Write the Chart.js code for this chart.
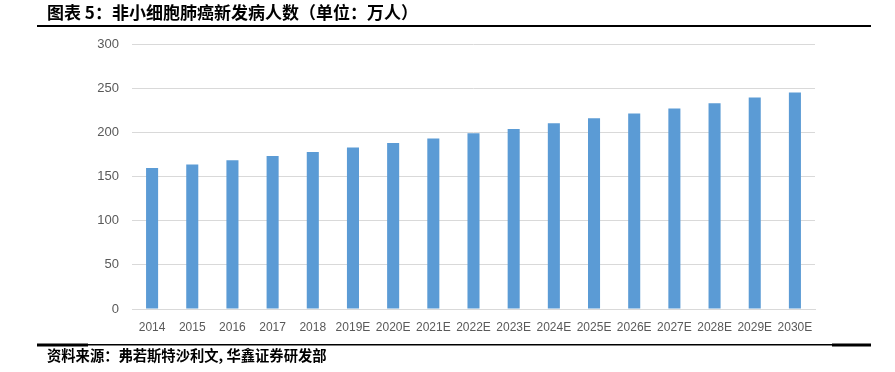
<!DOCTYPE html>
<html><head><meta charset="utf-8">
<script src="https://cdn.jsdelivr.net/npm/chart.js@4/dist/chart.umd.min.js"></script>
<style>html,body{margin:0;padding:0;background:#fff;}#wrap{position:relative;width:895px;height:372px;}</style>
</head><body><div id="wrap"><canvas id="c" width="895" height="372"></canvas></div>
<script>
const titleText = "图表 5：非小细胞肺癌新发病人数（单位：万人）";
const sourceText = "资料来源：弗若斯特沙利文, 华鑫证券研发部";
const categories = ["2014","2015","2016","2017","2018","2019E","2020E","2021E","2022E","2023E","2024E","2025E","2026E","2027E","2028E","2029E","2030E"];
const patients = [159.6,163.7,168.3,173.2,177.8,182.7,188,193,198.9,203.9,210.3,216,221.3,227,233,239.3,245];
const yTicks = [0,50,100,150,200,250,300];

const decor = {
  id:'decor',
  afterDraw(chart){
    const ctx = chart.ctx;
    ctx.save();
    ctx.fillStyle='#000';
    ctx.font='bold 17px "Noto Sans CJK SC", sans-serif';
    ctx.textBaseline='middle';
    ctx.textAlign='left';
    ctx.fillText(titleText,47,13);
    ctx.fillRect(37,25,834,2);
    ctx.fillRect(37,344,834,1.5);
    ctx.fillRect(37,343.5,51,3);
    ctx.fillRect(832,343.5,39,3);
    ctx.font='bold 14.3px "Noto Sans CJK SC", sans-serif';
    ctx.fillText(sourceText,47,356);
    ctx.restore();
  }
};

new Chart(document.getElementById('c'),{
  type:'bar',
  data:{labels:categories,datasets:[{data:patients,backgroundColor:'#5B9BD5',borderWidth:0,barPercentage:0.3,categoryPercentage:1}]},
  options:{
    responsive:false,animation:false,
    layout:{padding:{top:44,right:80,left:0,bottom:33}},
    plugins:{legend:{display:false},tooltip:{enabled:false},title:{display:false}},
    scales:{
      x:{grid:{display:false,drawTicks:false},border:{color:'#d9d9d9'},
         ticks:{color:'#595959',font:{family:'"Liberation Sans", Arial, sans-serif',size:12},padding:11,maxRotation:0,autoSkip:false},
         afterFit(s){s.height=30;}},
      y:{min:0,max:300,afterBuildTicks(s){s.ticks=yTicks.map(v=>({value:v}));},
         grid:{color:'#d9d9d9',drawTicks:false},border:{display:false},
         ticks:{color:'#595959',font:{family:'"Liberation Sans", Arial, sans-serif',size:13},padding:13},
         afterFit(s){s.width=132;}}
    }
  },
  plugins:[decor]
});
</script></body></html>
